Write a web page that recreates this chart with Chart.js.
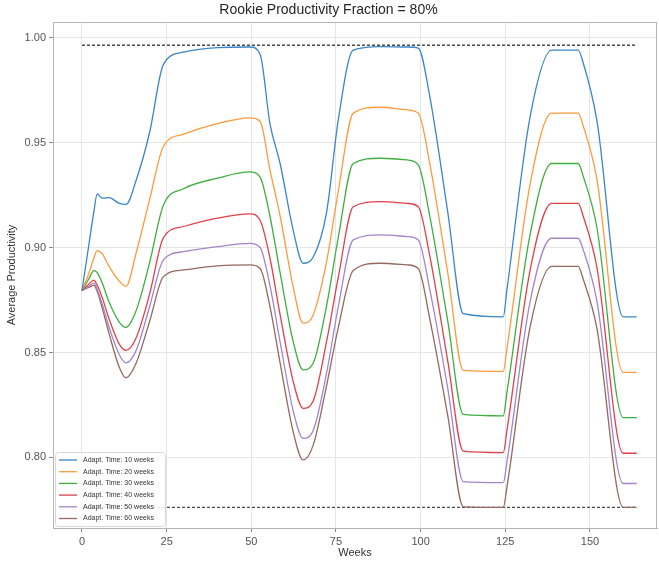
<!DOCTYPE html>
<html>
<head>
<meta charset="utf-8">
<script src="https://cdn.jsdelivr.net/npm/chart.js@4/dist/chart.umd.min.js"></script>
<style>
  html, body { margin: 0; padding: 0; background: #fff; }
  #wrap { width: 659px; height: 565px; }
</style>
</head>
<body>
<div id="wrap"><canvas id="line-chart" width="659" height="565"></canvas></div>
<script>
const weeks = [0, 2, 3.5, 4.5, 6, 8, 11, 13, 16, 20, 24, 30, 40, 49.6, 52.6,
  55.5, 58.5, 62.4, 65.3, 68.3, 72.2, 75.7, 80.1, 88, 96, 99.3, 102.7, 108,
  112.6, 124.4, 125.5, 132.3, 138.7, 146.5, 148, 152, 159.8, 163.8];

const adapt10 = [0.8795, 0.901, 0.917, 0.9255, 0.9235, 0.9238, 0.921, 0.9205, 0.932, 0.955, 0.987,
  0.993, 0.9952, 0.9955, 0.992,
  0.959, 0.940, 0.908, 0.8925, 0.8955,
  0.9165, 0.961, 0.994, 0.9957, 0.9955,
  0.995, 0.972, 0.917, 0.8685, 0.867,
  0.880, 0.962, 0.994, 0.994, 0.988,
  0.961, 0.867, 0.867];
const adapt20 = [0.8795, 0.8875, 0.895, 0.8985, 0.897, 0.891, 0.884, 0.8815, 0.8975, 0.923, 0.948,
  0.954, 0.959, 0.9617, 0.960,
  0.937, 0.915, 0.881, 0.864, 0.868,
  0.893, 0.927, 0.964, 0.9668, 0.9655,
  0.964, 0.940, 0.888, 0.8415, 0.841,
  0.852, 0.930, 0.964, 0.964, 0.958,
  0.933, 0.8405, 0.8405];
const adapt30 = [0.8795, 0.885, 0.889, 0.888, 0.883, 0.874, 0.8645, 0.862, 0.870, 0.893, 0.920,
  0.928, 0.933, 0.936, 0.9335,
  0.915, 0.888, 0.855, 0.8417, 0.845,
  0.872, 0.905, 0.940, 0.9425, 0.9417,
  0.9393, 0.915, 0.865, 0.8205, 0.8198,
  0.831, 0.906, 0.940, 0.940, 0.934,
  0.910, 0.819, 0.819];
const adapt40 = [0.8795, 0.8825, 0.8845, 0.882, 0.876, 0.866, 0.854, 0.851, 0.857, 0.878, 0.9045,
  0.910, 0.914, 0.916, 0.913,
  0.895, 0.868, 0.836, 0.8234, 0.827,
  0.855, 0.886, 0.9194, 0.9218, 0.921,
  0.9194, 0.896, 0.846, 0.803, 0.8023,
  0.813, 0.889, 0.921, 0.921, 0.915,
  0.891, 0.802, 0.802];
const adapt50 = [0.8795, 0.8815, 0.883, 0.880, 0.873, 0.862, 0.849, 0.845, 0.851, 0.872, 0.894,
  0.898, 0.9004, 0.902, 0.900,
  0.882, 0.855, 0.822, 0.8091, 0.813,
  0.840, 0.872, 0.9036, 0.906, 0.9052,
  0.9036, 0.880, 0.833, 0.7885, 0.788,
  0.798, 0.874, 0.9044, 0.9044, 0.899,
  0.875, 0.7876, 0.7876];
const adapt60 = [0.8795, 0.881, 0.882, 0.879, 0.871, 0.859, 0.843, 0.838, 0.845, 0.865, 0.886,
  0.8893, 0.8912, 0.8917, 0.890,
  0.872, 0.845, 0.812, 0.7988, 0.806,
  0.834, 0.862, 0.889, 0.8925, 0.8917,
  0.890, 0.866, 0.820, 0.7765, 0.7762,
  0.786, 0.862, 0.891, 0.891, 0.885,
  0.862, 0.7762, 0.7762];

const seriesLabels = ['Adapt. Time: 10 weeks', 'Adapt. Time: 20 weeks', 'Adapt. Time: 30 weeks',
  'Adapt. Time: 40 weeks', 'Adapt. Time: 50 weeks', 'Adapt. Time: 60 weeks'];
const seriesValues = [adapt10, adapt20, adapt30, adapt40, adapt50, adapt60];
const colors = ['#3a86c8', '#ff9a3c', '#3fae3f', '#e0404a', '#a585c9', '#94695e'];

// dashed reference levels (max / min)
const refWeeks = [0, 163.8];
const refLevels = [0.9963, 0.7762];

const xTicks = [0, 25, 50, 75, 100, 125, 150];
const yTicks = [0.80, 0.85, 0.90, 0.95, 1.00];

const FONT = '"Liberation Sans", Arial, sans-serif';

let datasets = seriesValues.map((vals, i) => ({
    label: seriesLabels[i],
    data: weeks.map((w, j) => ({x: w, y: vals[j]})),
    borderColor: colors[i],
    borderWidth: 1.3,
    pointRadius: 0,
    fill: false,
    cubicInterpolationMode: 'monotone'
}));

refLevels.forEach(lv => {
    datasets.push({
        label: '',
        data: refWeeks.map(w => ({x: w, y: lv})),
        borderColor: '#4a4a4a',
        borderWidth: 1.4,
        borderDash: [3, 2],
        pointRadius: 0,
        fill: false
    });
});

// frame round the plot + small legend box in the lower left
const cornerLegend = {
    id: 'cornerLegend',
    afterDraw(chart) {
        const ctx = chart.ctx;
        const a = chart.chartArea;
        ctx.save();
        ctx.strokeStyle = '#b5b5b5';
        ctx.lineWidth = 1;
        ctx.strokeRect(Math.round(a.left) + 0.5, Math.round(a.top) + 0.5,
                       Math.round(a.right - a.left) - 1, Math.round(a.bottom - a.top));

        const x0 = 55, y0 = 452, w = 110, h = 74;
        ctx.fillStyle = 'rgba(255,255,255,0.85)';
        ctx.strokeStyle = '#d8d8d8';
        ctx.beginPath();
        ctx.roundRect(x0 + 0.5, y0 + 0.5, w, h, 3);
        ctx.fill();
        ctx.stroke();
        ctx.font = '7px ' + FONT;
        ctx.textBaseline = 'middle';
        seriesLabels.forEach((lab, i) => {
            const y = y0 + 8 + i * 11.7;
            ctx.strokeStyle = colors[i];
            ctx.lineWidth = 1.3;
            ctx.beginPath();
            ctx.moveTo(59, y);
            ctx.lineTo(77, y);
            ctx.stroke();
            ctx.fillStyle = '#333';
            ctx.fillText(lab, 83, y);
        });
        ctx.restore();
    }
};

new Chart(document.getElementById('line-chart').getContext('2d'), {
    type: 'line',
    data: { datasets: datasets },
    options: {
        responsive: false,
        animation: false,
        layout: { padding: { left: 0, right: 2, top: 0, bottom: 0 } },
        plugins: {
            legend: { display: false },
            tooltip: { enabled: false },
            title: {
                display: true,
                text: 'Rookie Productivity Fraction = 80%',
                color: '#262626',
                font: { family: FONT, size: 14, weight: 'normal' },
                padding: { top: 2, bottom: 3.2 }
            }
        },
        scales: {
            x: {
                type: 'linear',
                min: -8.56,
                max: 169.8,
                afterBuildTicks: s => { s.ticks = xTicks.map(v => ({value: v})); },
                afterFit: s => { s.height = 37; },
                ticks: { color: '#555', font: { family: FONT, size: 11 }, padding: 3,
                         callback: v => String(v) },
                grid: { color: '#e6e6e6', tickColor: '#888', tickLength: 4 },
                border: { color: '#b5b5b5' },
                title: { display: true, text: 'Weeks', color: '#333',
                         font: { family: FONT, size: 11 }, padding: { top: 0, bottom: 5 } }
            },
            y: {
                min: 0.7664,
                max: 1.0074,
                afterBuildTicks: s => { s.ticks = yTicks.map(v => ({value: v})); },
                afterFit: s => { s.width = 53; },
                ticks: { color: '#555', font: { family: FONT, size: 11 }, padding: 3,
                         callback: v => v.toFixed(2) },
                grid: { color: '#e6e6e6', tickColor: '#888', tickLength: 4 },
                border: { color: '#b5b5b5' },
                title: { display: true, text: 'Average Productivity', color: '#333',
                         font: { family: FONT, size: 11 }, padding: { top: 5, bottom: 0 } }
            }
        }
    },
    plugins: [cornerLegend]
});
</script>
</body>
</html>
